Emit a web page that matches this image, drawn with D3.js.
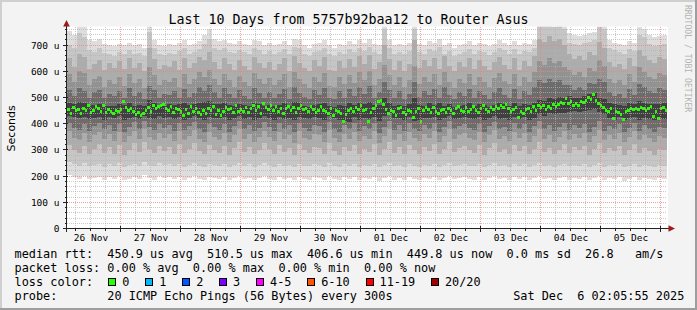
<!DOCTYPE html>
<html><head><meta charset="utf-8">
<script src="https://cdn.jsdelivr.net/npm/d3@7"></script>
<style>
html,body{margin:0;padding:0;background:#f3f3f3;}
svg{display:block;}
text{white-space:pre;}
</style></head><body>
<svg id="c" width="697" height="310"></svg>
<script>
// ---------------- DATA ----------------
const title = "Last 10 Days from 5757b92baa12 to Router Asus";
const startTime = Date.UTC(2025, 10, 26, 2, 36);   // first hourly sample
const stepMedianHours = 1;
const stepSmokeHours = 2;

// median RTT (microseconds), hourly
const median = [
455,440,462,450,456,438,458,450,468,444,
452,466,460,448,470,442,455,446,438,450,
448,455,486,462,450,458,446,435,442,430,
438,452,462,446,470,458,464,468,472,460,
452,466,444,458,456,445,432,454,440,464,
448,460,444,436,452,440,458,450,466,436,
452,430,446,462,455,460,442,470,448,456,
448,462,444,458,470,450,466,440,478,462,
456,470,452,464,448,460,438,458,466,452,
462,444,458,470,454,460,448,466,456,442,
452,464,450,446,440,458,432,452,446,438,
406.6,436,452,460,448,462,454,470,452,456,
410,444,460,470,486,490,472,456,440,452,
448,430,458,462,444,436,452,448,424,446,
458,408,450,462,456,444,462,448,438,452,
456,444,460,450,440,458,464,452,446,462,
448,456,466,452,444,460,470,456,448,462,
454,466,458,470,462,474,458,448,456,462,
424,446,440,454,460,448,466,452,470,462,
468,456,464,460,474,466,472,480,476,497,
478,484,470,476,468,486,480,490,500,492,
510.5,488,478,470,462,452,446,458,420,448,
442,436,418,446,452,458,454,460,456,462,
458,452,460,464,427,446,420,458,462,449.8];

// smoke: sorted ping ranks (microseconds), 2-hourly
const lo1 = [
205,195,190,200,188,192,198,186,195,190, 200,184,190,196,188,205,193,187,200,191,
195,188,197,185,192,200,190,186,198,193, 189,196,185,192,200,188,194,186,191,199,
190,185,196,188,193,184,198,190,187,195, 192,186,199,189,184,195,190,197,186,193,
188,196,183,191,199,187,193,185,197,190, 186,194,189,198,185,192,200,188,191,196,
190,187,195,184,193,199,188,192,186,197, 189,195,186,192,200,188,194,185,191,198,
187,193,189,196,184,191,199,186,192,188, 195,183,190,197,186,193,188,184,191,189];
const hi1 = [
755,740,790,775,720,715,725,705,700,695, 705,700,710,700,705,690,790,720,700,695,
705,700,710,720,700,705,715,740,760,725, 715,720,710,705,715,705,700,720,715,700,
710,700,705,715,700,725,720,700,690,705, 710,720,700,690,705,700,715,705,720,710,
725,705,700,790,720,700,705,700,710,800, 705,700,715,710,725,700,710,690,700,705,
715,700,710,705,695,705,720,710,700,715, 700,710,705,720,790,790,790,785,790,780,
745,740,735,740,745,750,790,785,720,710, 705,700,715,710,770,760,740,730,735,740];
const lo2 = [
252,246,240,250,238,244,248,236,246,240, 250,234,242,248,238,254,244,238,250,242,
246,238,248,236,244,250,240,236,248,244, 240,246,236,244,250,238,246,236,242,250,
242,236,248,238,244,234,248,240,238,246, 244,236,250,240,234,246,240,248,236,244,
238,248,234,242,250,238,244,236,248,240, 236,244,240,248,236,242,250,238,242,246,
240,238,246,234,244,250,238,242,236,248, 240,246,236,242,250,238,244,236,242,248,
238,244,240,246,234,242,250,236,244,238, 246,234,240,248,236,244,238,234,242,240];
const hi2 = [
700,690,745,730,680,675,690,670,665,660, 672,668,680,665,670,660,750,690,668,662,
670,665,678,690,668,672,685,705,725,690, 680,688,675,670,682,672,668,690,680,665,
676,668,672,684,666,692,688,668,658,672, 678,690,668,660,672,666,684,672,690,678,
694,672,668,760,690,668,672,666,678,760, 672,668,684,676,692,666,678,660,668,672,
684,668,678,672,662,672,690,680,668,684, 668,678,672,690,780,775,780,770,775,760,
710,705,700,708,712,720,770,760,690,680, 672,668,684,678,740,730,705,695,700,705];
const lo3 = [
320,298,288,316,284,304,322,290,312,286, 318,282,300,326,292,330,302,288,316,296,
310,286,324,290,304,328,294,284,318,300, 290,314,282,306,330,292,312,284,298,326,
302,286,320,292,308,280,322,298,288,312, 306,284,328,296,282,312,294,320,286,304,
292,322,280,302,330,290,310,286,320,298, 286,310,296,322,284,302,330,292,306,316,
298,290,318,282,306,328,292,302,286,320, 296,314,284,304,330,292,308,284,300,322,
290,310,298,316,282,302,328,288,308,294, 316,282,300,322,288,308,296,282,302,298];
const hi3 = [
650,615,665,655,610,628,645,605,630,612, 640,608,652,614,632,600,690,648,610,626,
618,638,606,650,612,630,655,645,672,635, 610,652,628,604,645,620,606,655,632,612,
636,606,628,652,602,660,632,614,600,642, 620,654,606,600,640,612,648,616,660,628,
662,610,634,700,648,606,640,602,628,720, 612,642,620,652,608,660,620,600,636,616,
652,608,642,620,604,636,656,624,610,650, 606,640,620,658,725,712,735,715,722,700,
665,648,660,642,672,662,712,690,634,616, 628,608,652,620,680,660,642,632,654,648];
const lo4 = [
372,345,338,366,332,356,370,340,362,334, 368,330,352,374,340,378,350,336,366,346,
360,334,372,338,354,376,342,332,368,350, 338,364,330,356,378,340,362,332,348,374,
350,334,370,340,358,328,372,346,336,362, 356,332,376,344,330,362,342,370,334,354,
340,372,328,352,378,338,360,334,370,346, 334,360,344,372,332,352,378,340,356,366,
346,338,368,330,356,376,340,352,334,370, 344,364,332,354,378,340,358,332,350,372,
338,360,346,366,330,352,376,336,358,342, 366,330,348,372,336,358,344,330,352,346];
const hi4 = [
590,560,600,595,548,570,582,540,565,552, 578,545,590,556,572,538,615,585,548,566,
560,575,542,588,552,570,596,580,605,572, 548,590,566,540,582,558,544,592,570,550,
575,546,566,590,540,598,570,552,538,580, 560,592,545,540,578,550,586,556,598,566,
600,548,572,625,585,546,578,540,566,620, 552,580,560,590,548,596,560,538,572,556,
590,548,580,560,542,574,595,562,550,588, 545,578,560,596,640,625,650,632,640,615,
605,585,598,580,612,600,645,622,572,556, 566,548,590,560,615,596,580,570,592,586];
const lo5 = [
402,385,376,398,372,392,404,378,396,374, 400,370,388,406,378,410,386,376,398,382,
394,372,404,376,390,408,380,370,400,386, 376,398,370,392,410,378,396,372,384,406,
386,372,402,378,394,368,404,382,374,396, 392,370,408,380,368,396,378,404,372,390,
378,404,366,388,410,376,394,372,402,380, 372,394,380,404,370,388,410,378,390,400,
382,376,400,368,392,408,378,388,372,402, 380,398,370,390,410,380,396,372,388,404,
376,394,382,400,368,388,410,374,392,380, 400,368,384,404,374,394,380,368,388,382];
const hi5 = [
530,505,538,525,500,520,530,498,515,505, 526,498,535,505,520,495,545,530,500,514,
508,525,498,532,502,518,540,526,548,520, 500,535,512,498,528,506,496,536,518,500,
522,498,514,534,495,540,518,502,494,528, 508,536,498,494,524,500,532,504,540,512,
544,500,520,560,530,498,524,494,514,560, 502,526,508,534,498,540,508,494,520,504,
534,498,526,508,496,520,538,510,500,532, 496,524,508,540,565,556,570,558,565,548,
548,530,542,528,556,550,572,560,520,506, 514,498,534,508,552,540,526,518,536,530];
const lo6 = [
428,424,420,426,418,422,426,416,424,420, 428,414,420,426,418,430,422,418,428,420,
424,418,426,416,422,428,420,416,426,422, 420,424,416,422,428,418,424,416,420,428,
420,416,426,418,422,414,426,420,418,424, 422,416,428,420,414,410,406,426,416,422,
418,426,412,428,436,420,422,416,424,412, 416,422,420,426,416,420,428,418,420,424,
420,418,424,414,422,428,418,420,416,426, 418,424,416,422,436,430,440,436,442,440,
446,450,444,448,452,458,446,436,422,416, 424,414,420,426,416,422,418,414,420,418];
const hi6 = [
478,474,482,480,470,472,476,468,468,466, 476,470,478,468,472,466,490,480,470,466,
474,470,476,480,470,474,478,482,486,476, 474,478,470,468,476,470,466,480,476,466,
472,468,470,478,466,482,480,468,464,470, 474,478,468,462,470,466,478,470,480,474,
482,472,470,500,480,468,472,466,474,500, 472,468,478,472,480,466,474,462,468,472,
478,468,474,472,464,472,480,476,468,478, 468,474,472,480,490,488,500,496,502,498,
505,500,498,504,515,518,500,494,480,474, 470,466,478,476,486,480,476,474,476,478];

const yTicks = [0, 100, 200, 300, 400, 500, 600, 700];
const yTickLabels = ["0", "100 u", "200 u", "300 u", "400 u", "500 u", "600 u", "700 u"];
const dayLabels = ["26 Nov", "27 Nov", "28 Nov", "29 Nov", "30 Nov", "01 Dec", "02 Dec", "03 Dec", "04 Dec", "05 Dec"];
const yLabel = "Seconds";
const lossLabels = ["0", "1", "2", "3", "4-5", "6-10", "11-19", "20/20"];
const lossColors = ["#26ff00", "#00b8ff", "#0059ff", "#7e00ff", "#ff00ff", "#ff5500", "#ff0000", "#a10000"];
const smokeColors = ["#dddddd", "#c6c6c6", "#acacac", "#929292", "#6c6c6c", "#404040"];
const legendLines = [
  "median rtt:  450.9 us avg  510.5 us max  406.6 us min  449.8 us now  0.0 ms sd  26.8   am/s",
  "packet loss: 0.00 % avg  0.00 % max  0.00 % min  0.00 % now",
  "loss color:",
  "probe:       20 ICMP Echo Pings (56 Bytes) every 300s"
];
const dateStamp = "Sat Dec  6 02:05:55 2025";
const watermark = "RRDTOOL / TOBI OETIKER";

// ---------------- DRAW ----------------
const W = 697, H = 310;
const PL = 67, PR = 667, PT = 26.8, PB = 228.5;
const HOUR = 3600e3;
const mono = "'DejaVu Sans Mono', monospace";
const svg = d3.select("#c");

const x = d3.scaleUtc().domain([startTime, startTime + median.length * stepMedianHours * HOUR]).range([PL, PR]);
const y = d3.scaleLinear().domain([0, 770]).range([PB, PT]);

// background + frame
svg.append("rect").attr("width", W).attr("height", H).attr("fill", "#f3f3f3");
svg.append("path").attr("d", `M0,${H} V0 H${W}`).attr("fill", "none").attr("stroke", "#cfcfcf").attr("stroke-width", 4);
svg.append("path").attr("d", `M0,${H} H${W} V0`).attr("fill", "none").attr("stroke", "#9e9e9e").attr("stroke-width", 4);

// canvas
svg.append("rect").attr("x", 66.5).attr("y", 26.5).attr("width", 601.5).attr("height", PB - 26.5).attr("fill", "#ffffff");

svg.append("clipPath").attr("id", "clip").append("rect")
  .attr("x", PL).attr("y", PT).attr("width", PR - PL).attr("height", PB - PT);
const plot = svg.append("g").attr("clip-path", "url(#clip)").attr("shape-rendering", "crispEdges");

// smoke
const levels = [[lo1, hi1], [lo2, hi2], [lo3, hi3], [lo4, hi4], [lo5, hi5], [lo6, hi6]];
levels.forEach(([lo, hi], k) => {
  plot.append("g").selectAll("rect").data(lo.map((v, j) => ({ j, lo: v, hi: hi[j] })))
    .join("rect")
    .attr("x", d => x(startTime + d.j * stepSmokeHours * HOUR))
    .attr("width", d => x(startTime + (d.j + 1) * stepSmokeHours * HOUR) - x(startTime + d.j * stepSmokeHours * HOUR))
    .attr("y", d => y(d.hi))
    .attr("height", d => y(d.lo) - y(d.hi))
    .attr("fill", smokeColors[k]);
});

// grid (drawn on top, semi transparent, dotted)
const grid = svg.append("g").attr("shape-rendering", "crispEdges").attr("stroke-dasharray", "1,1");
const snap = v => Math.floor(v) + 0.5;
const minorY = d3.range(20, 770, 20).filter(v => v % 100 !== 0);
grid.selectAll(".hmin").data(minorY).join("line")
  .attr("x1", PL).attr("x2", PR).attr("y1", d => snap(y(d))).attr("y2", d => snap(y(d)))
  .attr("stroke", "rgba(180,180,180,0.7)");
const minorX = d3.utcHour.every(6).range(new Date(startTime), new Date(startTime + 240 * HOUR)).filter(d => d.getUTCHours() !== 0);
grid.selectAll(".vmin").data(minorX).join("line")
  .attr("y1", PT).attr("y2", PB).attr("x1", d => snap(x(d))).attr("x2", d => snap(x(d)))
  .attr("stroke", "rgba(180,180,180,0.7)");
grid.selectAll(".hmaj").data(yTicks.filter(v => v > 0)).join("line")
  .attr("x1", PL).attr("x2", PR).attr("y1", d => snap(y(d))).attr("y2", d => snap(y(d)))
  .attr("stroke", "rgba(245,128,128,0.75)");
const days = d3.utcDay.range(new Date(startTime), new Date(startTime + 240 * HOUR + 1));
grid.selectAll(".vmaj").data(days).join("line")
  .attr("y1", PT).attr("y2", PB).attr("x1", d => snap(x(d))).attr("x2", d => snap(x(d)))
  .attr("stroke", "rgba(245,128,128,0.75)");

// median, coloured by loss (0 loss -> green)
plot.append("g").selectAll("rect").data(median.map((v, i) => ({ i, v })))
  .join("rect")
  .attr("x", d => x(startTime + d.i * stepMedianHours * HOUR))
  .attr("width", d => x(startTime + (d.i + 1) * stepMedianHours * HOUR) - x(startTime + d.i * stepMedianHours * HOUR))
  .attr("y", d => y(d.v) - 1.5)
  .attr("height", 3)
  .attr("fill", lossColors[0]);

// axes lines, ticks, arrows
const ax = svg.append("g").attr("shape-rendering", "crispEdges").attr("stroke", "#222");
ax.append("line").attr("x1", 66.5).attr("x2", 66.5).attr("y1", 24).attr("y2", 231.5);
ax.append("line").attr("x1", 63).attr("x2", 670).attr("y1", 228.5).attr("y2", 228.5);
ax.selectAll(".ymaj").data(yTicks).join("line")
  .attr("x1", 62.5).attr("x2", 68).attr("y1", d => snap(y(d))).attr("y2", d => snap(y(d)));
ax.selectAll(".ymin").data(minorY).join("line")
  .attr("x1", 64.5).attr("x2", 66.5).attr("y1", d => snap(y(d))).attr("y2", d => snap(y(d)));
ax.selectAll(".xmin").data(minorX).join("line")
  .attr("y1", 228.5).attr("y2", 231).attr("x1", d => snap(x(d))).attr("x2", d => snap(x(d)));
ax.selectAll(".xmaj").data(days).join("line")
  .attr("y1", 226).attr("y2", 232).attr("x1", d => snap(x(d))).attr("x2", d => snap(x(d)));
svg.append("path").attr("d", "M66.5,20 L63.2,26.5 L69.8,26.5 Z").attr("fill", "#9b1c1c");
svg.append("path").attr("d", "M675,228.5 L668.5,225.2 L668.5,231.8 Z").attr("fill", "#9b1c1c");

// y axis labels via d3 axis
const yAxis = svg.append("g").attr("transform", "translate(66.5,0)")
  .call(d3.axisLeft(y).tickValues(yTicks).tickFormat((d, i) => yTickLabels[i]).tickSize(0).tickPadding(7));
yAxis.select(".domain").remove();
yAxis.selectAll("text").attr("font-family", mono).attr("font-size", "9.5px").attr("fill", "#000");

// x axis labels at noon
const noons = dayLabels.map((_, k) => d3.utcDay.offset(days[0], k - 1).getTime() + 12 * HOUR);
const xAxis = svg.append("g").attr("transform", "translate(0,228.5)")
  .call(d3.axisBottom(x).tickValues(noons).tickFormat((d, i) => dayLabels[i]).tickSize(0).tickPadding(5.8));
xAxis.select(".domain").remove();
xAxis.selectAll("text").attr("font-family", mono).attr("font-size", "9.5px").attr("fill", "#000");

// title, y label, watermark
svg.append("text").attr("x", 348.5).attr("y", 24).attr("text-anchor", "middle")
  .attr("font-family", mono).attr("font-size", "13.3px").attr("fill", "#000").text(title);
svg.append("text").attr("transform", "translate(14.5,128.3) rotate(-90)").attr("text-anchor", "middle")
  .attr("font-family", "'DejaVu Sans', sans-serif").attr("font-size", "11px").attr("fill", "#000").text(yLabel);
svg.append("text").attr("transform", "translate(685,5) rotate(90)")
  .attr("font-family", mono).attr("font-size", "8.1px").attr("fill", "#b4b4b4").text(watermark);

// legend
const LX = 14.6, CW = 7.13, LFS = "11.85px";
const baselines = [257.5, 271.8, 285.8, 300];
legendLines.forEach((t, k) => {
  svg.append("text").attr("x", LX).attr("y", baselines[k]).attr("font-family", mono)
    .attr("font-size", LFS).attr("fill", "#000").text(t);
});
svg.append("text").attr("x", LX + 70 * CW - 0.5).attr("y", baselines[3]).attr("font-family", mono)
  .attr("font-size", LFS).attr("fill", "#000").text(dateStamp);
let bx = 108.3;
lossLabels.forEach((lab, k) => {
  svg.append("rect").attr("x", Math.round(bx) + 0.5).attr("y", 278.5).attr("width", 7).attr("height", 7)
    .attr("fill", lossColors[k]).attr("stroke", "#000").attr("stroke-width", 1).attr("shape-rendering", "crispEdges");
  svg.append("text").attr("x", bx + 14).attr("y", baselines[2]).attr("font-family", mono)
    .attr("font-size", LFS).attr("fill", "#000").text(lab);
  bx += 14 + lab.length * CW + 15.8;
});
</script>
</body></html>
